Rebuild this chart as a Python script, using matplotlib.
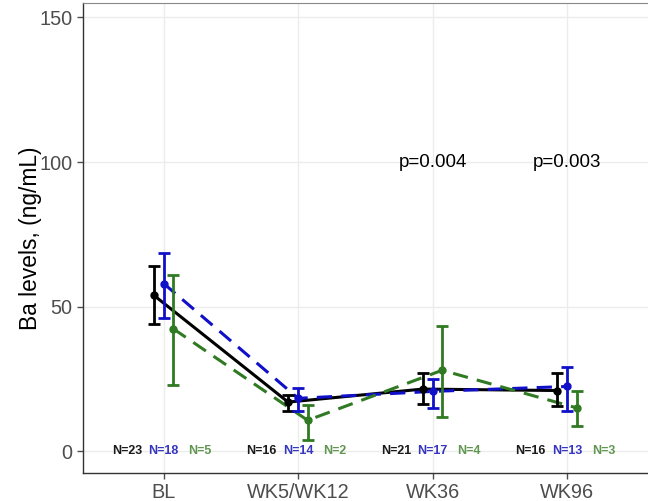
import numpy as np
import matplotlib
matplotlib.use("Agg")
import matplotlib.pyplot as plt

plt.rcParams['font.family'] = ['Liberation Sans', 'DejaVu Sans']

visits = ["BL", "WK5/WK12", "WK36", "WK96"]

# group means and error bar limits (ng/mL)
blackMean = [54, 17, 21.5, 21]
blackLow = [44, 14, 16.5, 15.5]
blackHigh = [64, 19.5, 27, 27]

blueMean = [58, 18.3, 20.7, 22.4]
blueLow = [46, 14, 15, 14]
blueHigh = [68.6, 22, 25, 29]

greenMean = [42.4, 10.7, 28, 15]
greenLow = [22.8, 3.8, 12, 8.6]
greenHigh = [61, 16, 43.4, 21]

blackN = ["N=23", "N=16", "N=21", "N=16"]
blueN = ["N=18", "N=14", "N=17", "N=13"]
greenN = ["N=5", "N=2", "N=4", "N=3"]

pLabels = {2: "p=0.004", 3: "p=0.003"}

x = np.arange(1, len(visits) + 1)

fig = plt.figure(figsize=(6.48, 5.01), dpi=100)
ax = fig.add_axes([0.128, 0.056, 0.872, 0.938])

groups = [
    (blackMean, blackLow, blackHigh, "black", "-", -0.075),
    (blueMean, blueLow, blueHigh, "#1010c8", (0, (5, 3)), 0.0),
    (greenMean, greenLow, greenHigh, "#2f7a22", (0, (5, 3)), 0.07),
]
for mean, low, high, col, ls, off in groups:
    xs = x + off
    mean = np.array(mean)
    err = [mean - np.array(low), np.array(high) - mean]
    ax.plot(xs, mean, color=col, linestyle=ls, linewidth=2.2, zorder=3)
    ax.errorbar(xs, mean, yerr=err, fmt="o", color=col, markersize=5,
                elinewidth=2, capsize=4, capthick=2, zorder=4)

nColors = ["#1a1a1a", "#3535c0", "#5f9650"]
for i in range(len(visits)):
    for j, (labels, col) in enumerate(zip([blackN, blueN, greenN], nColors)):
        ax.text(x[i] + (j - 1) * 0.272, 0, labels[i], color=col, fontsize=9,
                fontweight="bold", ha="center", va="center")

for i, lab in pLabels.items():
    ax.text(x[i], 100, lab, fontsize=13.5, ha="center", va="center", color="black")

ax.set_xlim(0.4, 4.6)
ax.set_ylim(-7.5, 155)
ax.set_xticks(x)
ax.set_xticklabels(visits)
ax.set_yticks([0, 50, 100, 150])
ax.tick_params(colors="#4d4d4d", labelsize=14.3, length=4, width=1)
ax.set_ylabel("Ba levels, (ng/mL)", fontsize=16.4, color="black", labelpad=-2)

ax.grid(True, color="#ececec", linewidth=1)
ax.set_axisbelow(True)
for s in ["left", "bottom"]:
    ax.spines[s].set_color("#333333")
    ax.spines[s].set_linewidth(1)
ax.spines["top"].set_color("#888888")
ax.spines["right"].set_visible(False)

fig.savefig("out.png", dpi=100)
